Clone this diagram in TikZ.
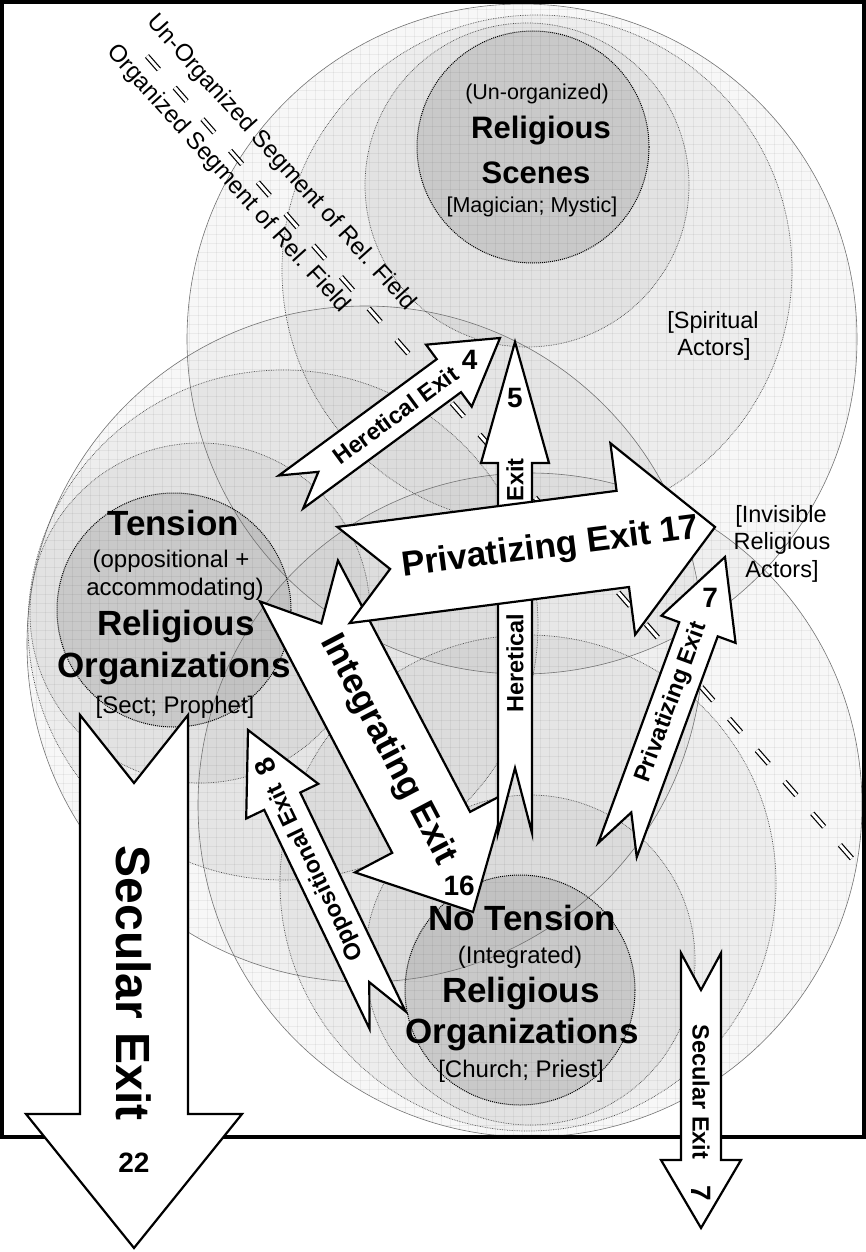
\documentclass[tikz,border=0pt]{standalone}
\usepackage{fontspec}
\setmainfont{Liberation Sans}
\usetikzlibrary{calc}

% block arrow with notched tail: tail, tip, half shaft, half head, head length, notch
\newcommand{\exitarrow}[6]{%
  \coordinate (#1h) at ($(#2)!#5!(#1)$);
  \draw[exit] ($(#1)!#6!(#2)$)
    -- ($(#1)!#3!90:(#2)$) -- ($(#1h)!#3!90:(#2)$)
    -- ($(#1h)!#4!90:(#2)$) -- (#2)
    -- ($(#1h)!#4!-90:(#2)$) -- ($(#1h)!#3!-90:(#2)$)
    -- ($(#1)!#3!-90:(#2)$) -- cycle;%
}

\begin{document}
\begin{tikzpicture}
[x=1pt,y=-1pt,%
  ring/.style={draw=black!55,line width=.6pt},%
  dotring/.style={draw=black!70,densely dotted,line width=.7pt},%
  corering/.style={draw=black,densely dotted,line width=1pt},%
  gridline/.style={draw=black,draw opacity=.05,line width=.5pt},%
  fieldline/.style={double,double distance=3pt,line width=1.2pt,dash pattern=on 18pt off 24pt},%
  exit/.style={draw=black,fill=white,line width=2.2pt,line join=miter,miter limit=20},%
  scenetitle/.style={anchor=base,inner sep=0pt,font=\bfseries\fontsize{31}{31}\selectfont},%
  scenenote/.style={anchor=base,inner sep=0pt,font=\fontsize{21.5}{21.5}\selectfont},%
  grouptitle/.style={anchor=base,inner sep=0pt,font=\bfseries\fontsize{35}{35}\selectfont},%
  groupnote/.style={anchor=base,inner sep=0pt,font=\fontsize{24}{24}\selectfont},%
  actornote/.style={anchor=base,inner sep=0pt,font=\fontsize{23.5}{23.5}\selectfont},%
  segnote/.style={inner sep=0pt,rotate=-48,font=\fontsize{24}{24}\selectfont},%
  smallexit/.style={inner sep=0pt,font=\bfseries\fontsize{23.5}{23.5}\selectfont},%
  bigexit/.style={inner sep=0pt,font=\bfseries\fontsize{35}{35}\selectfont},%
  hugeexit/.style={inner sep=0pt,font=\bfseries\fontsize{48}{48}\selectfont},%
  exitnum/.style={inner sep=0pt,font=\bfseries\fontsize{28}{28}\selectfont}]
\useasboundingbox[fill=white] (0,0) rectangle (866,1252);
%% shaded fields
\foreach \cx/\cy/\r/\op in {522/339/335/.03, 537/270/255/.04, 527/185/162/.045, 533/147/116/.11,
  365/644/338/.03, 283/625/255/.04, 200/613/170/.045, 174/610/117/.11,
  530/805/332/.03, 528/883/248/.04, 530/960/165/.045, 520/990/115/.11}
{
  \fill[black,fill opacity=\op] (\cx,\cy) circle (\r);
}
\begin{scope}
  \clip (522,339) circle (335) (365,644) circle (338) (530,805) circle (332);
  \foreach \g in {0,9,...,864}
    \draw[gridline] (\g,0) -- (\g,1140);
  \foreach \g in {0,9,...,1140}
    \draw[gridline] (0,\g) -- (866,\g);
\end{scope}
\foreach \cx/\cy/\r in {522/339/335, 365/644/338, 530/805/332}
  \draw[ring] (\cx,\cy) circle (\r);
\foreach \cx/\cy/\r in {537/270/255, 527/185/162, 283/625/255, 200/613/170, 528/883/248, 530/960/165}
  \draw[dotring] (\cx,\cy) circle (\r);
\foreach \cx/\cy/\r in {533/147/116, 174/610/117, 520/990/115}
  \draw[corering] (\cx,\cy) circle (\r);
%% frame
\draw[line width=4pt] (2,2) rectangle (864,1137);
%% border of the field
\coordinate (segA) at (147,56);
\coordinate (segB) at (855,862);
\draw[fieldline] (segA) -- (segB);
\node[segnote] (unorgSeg) at (281,163) {Un-Organized Segment of Rel. Field};
\node[segnote] (orgSeg) at (228,179) {Organized Segment of Rel. Field};
%%
\node[scenenote] (unorg) at (537,100) {(Un-organized)};
\node[scenetitle] (scnRel) at (541,139) {Religious};
\node[scenetitle] (scnSc) at (536,183) {Scenes};
\node[scenenote] (scnMag) at (532,212) {[Magician; Mystic]};
%%
\node[grouptitle] (tenT) at (173,535) {Tension};
\node[groupnote] (tenOpp) at (171,567) {(oppositional +};
\node[groupnote] (tenAcc) at (175,595) {accommodating)};
\node[grouptitle] (tenRel) at (176,635) {Religious};
\node[grouptitle] (tenOrg) at (174,677) {Organizations};
\node[groupnote] (tenSect) at (175,713) {[Sect; Prophet]};
%%
\node[grouptitle] (ntT) at (522,930) {No Tension};
\node[groupnote] (ntInt) at (520,963) {(Integrated)};
\node[grouptitle] (ntRel) at (521,1002) {Religious};
\node[grouptitle] (ntOrg) at (522,1043) {Organizations};
\node[groupnote] (ntChurch) at (521,1077) {[Church; Priest]};
%%
\node[actornote] (spirA) at (713,328) {[Spiritual};
\node[actornote] (spirB) at (714,355) {Actors]};
\node[actornote] (invA) at (781,522) {[Invisible};
\node[actornote] (invB) at (782,549) {Religious};
\node[actornote] (invC) at (782,577) {Actors]};
%% exits
\coordinate (oppT) at (387.5,1020);
\coordinate (oppP) at (248,730);
\coordinate (secT) at (134,715);
\coordinate (secP) at (134,1248);
\coordinate (ssT) at (701,953);
\coordinate (ssP) at (701,1228);
\coordinate (integT) at (299,581);
\coordinate (integP) at (473,912);
\coordinate (herT) at (291,492);
\coordinate (herP) at (500,338);
\coordinate (fiveT) at (515,833);
\coordinate (fiveP) at (515,342);
\coordinate (privT) at (343.5,575);
\coordinate (privP) at (715,527);
\coordinate (psT) at (617.5,850);
\coordinate (psP) at (725,557);
%%
\exitarrow{oppT}{oppP}{20pt}{40pt}{79pt}{42pt}
\path (oppT) -- (oppP)
  node[pos=.51,sloped,allow upside down,smallexit] (oppL) {Oppositional Exit}
  node[pos=.873,sloped,allow upside down,exitnum] (oppN) {8};
%%
\exitarrow{secT}{secP}{54pt}{108pt}{134pt}{68pt}
\path (secT) -- (secP)
  node[pos=.503,sloped,hugeexit] (secL) {Secular Exit}
  node[pos=.84,exitnum] (secN) {22};
%%
\exitarrow{ssT}{ssP}{20pt}{40pt}{68pt}{37pt}
\path (ssT) -- (ssP)
  node[pos=.505,sloped,smallexit] (ssL) {Secular Exit}
  node[pos=.873,sloped,exitnum] (ssN) {7};
%%
\exitarrow{integT}{integP}{44pt}{86pt}{90pt}{48pt}
\path (integT) -- (integP)
  node[pos=.51,sloped,bigexit] (integL) {Integrating Exit}
  node[pos=.92,exitnum] (integN) {16};
%%
\exitarrow{herT}{herP}{20.5pt}{38.5pt}{63.5pt}{34pt}
\path (herT) -- (herP)
  node[pos=.5,sloped,smallexit] (herL) {Heretical Exit}
  node[pos=.855,exitnum] (herN) {4};
%%
\exitarrow{fiveT}{fiveP}{17pt}{34pt}{121pt}{65pt}
\path (fiveT) -- (fiveP)
  node[pos=.346,sloped,smallexit] (fiveLa) {Heretical}
  node[pos=.719,sloped,smallexit] (fiveLb) {Exit}
  node[pos=.886,exitnum] (fiveN) {5};
%%
\exitarrow{privT}{privP}{48.5pt}{96.5pt}{93pt}{47pt}
\path (privT) -- (privP)
  node[pos=.557,sloped,bigexit] (privL) {Privatizing Exit 17};
%%
\exitarrow{psT}{psP}{20.5pt}{39.5pt}{77pt}{40pt}
\path (psT) -- (psP)
  node[pos=.503,sloped,smallexit] (psL) {Privatizing Exit}
  node[pos=.861,exitnum] (psN) {7};
\end{tikzpicture}
\end{document}
